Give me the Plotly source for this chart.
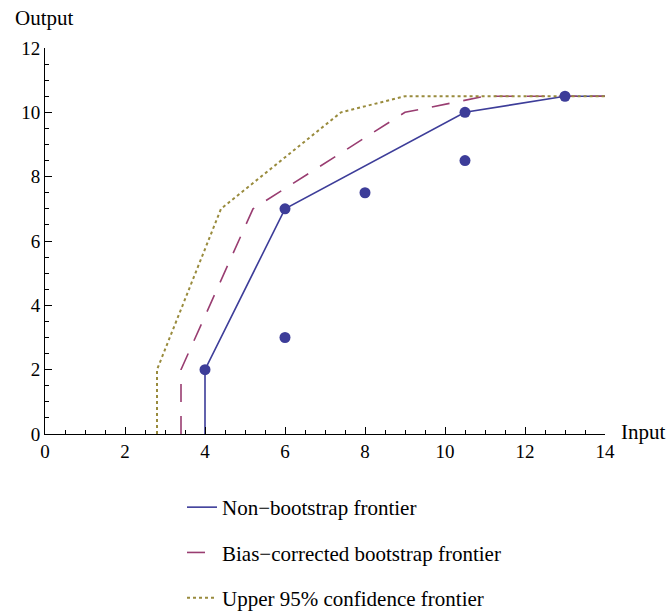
import plotly.graph_objects as go

# Observed data points
data_x = [4, 6, 6, 8, 10.5, 10.5, 13]
data_y = [2, 7, 3, 7.5, 10, 8.5, 10.5]

# Non-bootstrap frontier
nb_x = [4, 4, 6, 10.5, 13, 14]
nb_y = [0, 2, 7, 10, 10.5, 10.5]

# Bias-corrected bootstrap frontier
bc_x = [3.4, 3.4, 5.2, 9.0, 11.0, 14]
bc_y = [0, 2, 7, 10, 10.5, 10.5]

# Upper 95% confidence frontier
up_x = [2.8, 2.8, 4.4, 7.4, 9.0, 14]
up_y = [0, 2, 7, 10, 10.5, 10.5]

x_ticks = [0, 2, 4, 6, 8, 10, 12, 14]
y_ticks = [0, 2, 4, 6, 8, 10, 12]

BLUE = "#3d3d99"
PURPLE = "#993d71"
GOLD = "#998b3d"
FONT = "Liberation Serif"

W, H = 669, 616

fig = go.Figure()
fig.add_trace(go.Scatter(x=nb_x, y=nb_y, mode="lines", name="Non\u2212bootstrap frontier",
                         line=dict(color=BLUE, width=1.6), legendgroup="a"))
fig.add_trace(go.Scatter(x=bc_x, y=bc_y, mode="lines", name="Bias\u2212corrected bootstrap frontier",
                         line=dict(color=PURPLE, width=1.6, dash="18px,14px"), legendgroup="b"))
fig.add_trace(go.Scatter(x=up_x, y=up_y, mode="lines", name="Upper 95% confidence frontier",
                         line=dict(color=GOLD, width=2, dash="3px,3px"), legendgroup="c"))
fig.add_trace(go.Scatter(x=data_x, y=data_y, mode="markers", showlegend=False,
                         marker=dict(color=BLUE, size=11), cliponaxis=False))

axis_common = dict(
    showgrid=False, zeroline=False, showline=True, linecolor="black", linewidth=1,
    ticks="inside", ticklen=7, tickcolor="black", tickwidth=1,
    tickfont=dict(family=FONT, size=19, color="black"),
    minor=dict(dtick=0.5, ticks="inside", ticklen=4, tickcolor="black", tickwidth=1),
    automargin=False,
)
fig.update_xaxes(range=[0, 14], tickvals=x_ticks, tickangle=0, **axis_common)
fig.update_yaxes(range=[0, 12], tickvals=y_ticks, **axis_common)

fig.update_layout(
    width=W, height=H,
    margin=dict(l=45, r=64, t=48, b=182, autoexpand=False),
    paper_bgcolor="white", plot_bgcolor="white",
    font=dict(family=FONT, color="black"),
    legend=dict(
        xref="container", yref="container", x=182 / W, y=1 - 487 / H,
        xanchor="left", yanchor="top", font=dict(family=FONT, size=21),
        tracegroupgap=15, bgcolor="rgba(0,0,0,0)",
    ),
    annotations=[
        dict(text="Output", xref="paper", yref="paper", x=-32 / 560, y=1 + 30 / 386,
             xanchor="left", yanchor="middle", showarrow=False, font=dict(family=FONT, size=21)),
        dict(text="Input", xref="paper", yref="paper", x=1 + 14 / 560, y=2 / 386,
             xanchor="left", yanchor="middle", showarrow=False, font=dict(family=FONT, size=21)),
    ],
)

fig.write_html("out.html",
               config={"displayModeBar": False},
               post_script="document.body.style.margin='0';document.body.style.overflow='hidden';")
